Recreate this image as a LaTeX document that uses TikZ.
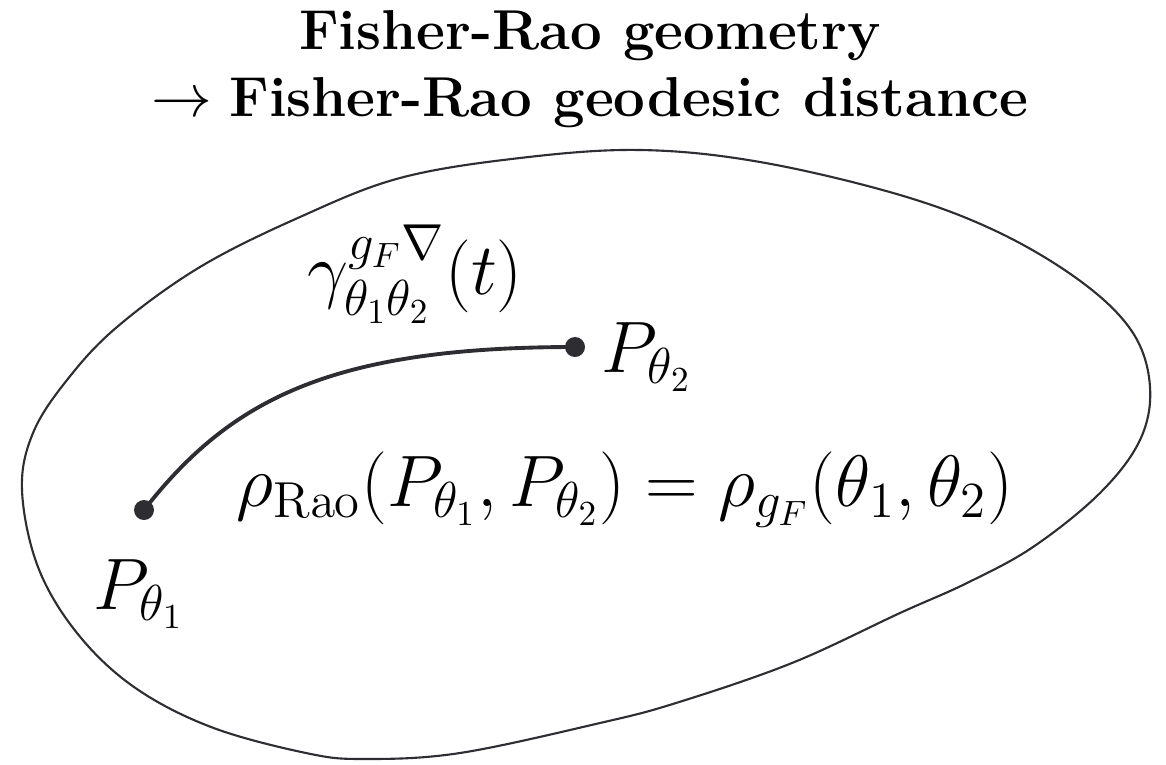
\documentclass[tikz,border=0pt]{standalone}
\usepackage{amsmath,amssymb}
\usepackage{tikz}
\usetikzlibrary{positioning,calc}
\definecolor{inkcolor}{RGB}{45,45,50}
\tikzset{
  outlineln/.style={line width=0.6pt, inkcolor},
  geodln/.style={line width=1.1pt, line cap=round, inkcolor},
  ptdot/.style={circle, fill=inkcolor, inner sep=0pt, minimum size=2mm},
  lbl/.style={font=\fontsize{19.5}{23}\selectfont, inner sep=1pt},
  titlelbl/.style={font=\fontsize{16}{19}\selectfont, align=center},
}

\begin{document}
\begin{tikzpicture}
    \useasboundingbox (0,0) rectangle (11.66,7.64);
    \node[titlelbl] (title) at (5.9,6.95)
      {\textbf{Fisher-Rao geometry}\\$\to$ \textbf{Fisher-Rao geodesic distance}};
    % statistical manifold
    \draw[outlineln] plot[smooth cycle, tension=0.6] coordinates {
      (0.22,2.74) (0.33,3.31) (0.67,3.84) (1.17,4.37) (2.00,4.97)
      (3.00,5.47) (4.00,5.86) (5.20,6.06) (6.40,6.14) (7.60,6.02)
      (9.00,5.69) (10.00,5.31) (10.83,4.81) (11.33,4.31) (11.50,3.77)
      (11.40,3.24) (11.00,2.71) (10.33,2.17) (9.67,1.81) (9.00,1.51)
      (7.92,1.01) (6.76,0.61) (6.00,0.41) (4.60,0.11) (3.64,0.05)
      (3.06,0.11) (2.11,0.37) (1.34,0.77) (0.77,1.31) (0.38,1.97)};
    % the two points and the geodesic between them
    \node[ptdot] (p1) at (1.44,2.54) {};
    \node[ptdot] (p2) at (5.75,4.17) {};
    \draw[geodln] (p1.center) .. controls (2.30,3.64) and (3.30,4.17) .. (p2.center);
    \node[lbl, below=0.35 of p1, xshift=-0.05cm] (p1lbl) {$P_{\theta_1}$};
    \node[lbl, right=0.12 of p2, yshift=-0.1cm] (p2lbl) {$P_{\theta_2}$};
    \node[lbl] (geodlbl) at (4.15,4.9)
      {$\gamma_{\theta_1\theta_2}^{g_F\nabla}(t)$};
    \node[lbl] (distlbl) at (6.25,2.74)
      {$\rho_{\mathrm{Rao}}(P_{\theta_1},P_{\theta_2})=\rho_{g_F}(\theta_1,\theta_2)$};
  \end{tikzpicture}
\end{document}
